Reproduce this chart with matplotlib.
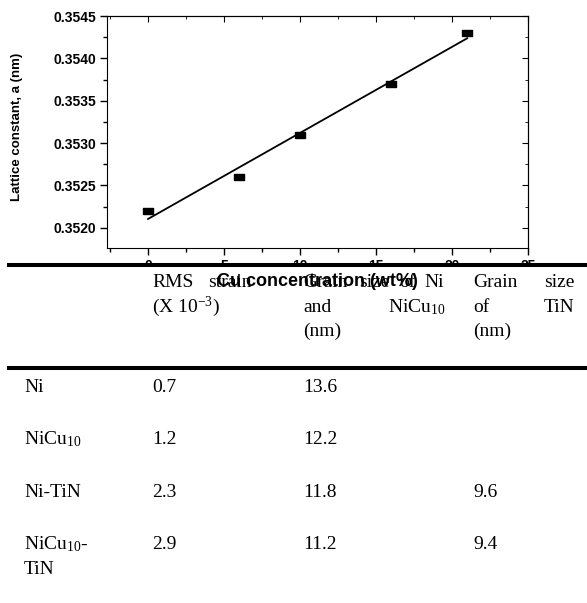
import numpy as np
import matplotlib
matplotlib.use('Agg')
import matplotlib.pyplot as plt
from matplotlib.patches import Rectangle
from matplotlib.lines import Line2D
from matplotlib.ticker import MultipleLocator

plt.rcParams['font.family'] = 'Liberation Sans'
plt.rcParams['mathtext.fontset'] = 'custom'
plt.rcParams['mathtext.rm'] = 'Liberation Serif'
plt.rcParams['mathtext.it'] = 'Liberation Serif:italic'
plt.rcParams['mathtext.bf'] = 'Liberation Serif:bold'

# datos de la grafica
cu = [0, 6, 10, 16, 21]
lattice = [0.3522, 0.3526, 0.3531, 0.3537, 0.3543]

# datos de la tabla
samples = ['Ni', 'NiCu$_{\\mathrm{10}}$', 'Ni-TiN', 'NiCu$_{\\mathrm{10}}$-\nTiN']
rms = ['0.7', '1.2', '2.3', '2.9']
grain = ['13.6', '12.2', '11.8', '11.2']
grain_tin = ['', '', '9.6', '9.4']

W, H = 587, 603


def fx(px):
    return px / W


def fy(py):
    return 1 - py / H


fig = plt.figure(figsize=(W / 100, H / 100), dpi=100)
ax = fig.add_axes([fx(107), fy(248), 421 / W, 232 / H])

# ajuste lineal
m, b = np.polyfit(cu, lattice, 1)
xs = np.array([cu[0], cu[-1]])
ax.plot(xs, m * xs + b, color='black', lw=1.3)

square = [(-1.5, -1), (1.5, -1), (1.5, 1), (-1.5, 1), (-1.5, -1)]
ax.plot(cu, lattice, ls='none', marker=square, ms=7.5, color='black')

ax.set_xlim(-2.7, 25)
ax.set_ylim(0.35176, 0.3545)
ax.set_xticks(range(0, 26, 5))
ax.set_yticks([0.3520, 0.3525, 0.3530, 0.3535, 0.3540, 0.3545])
ax.set_yticklabels(['%.4f' % v for v in ax.get_yticks()])
ax.xaxis.set_minor_locator(MultipleLocator(2.5))
ax.yaxis.set_minor_locator(MultipleLocator(0.00025))
ax.tick_params(which='major', direction='out', length=5, width=1, labelsize=10, pad=3)
ax.tick_params(which='minor', direction='out', length=3, width=1)
for lab in ax.get_xticklabels() + ax.get_yticklabels():
    lab.set_fontweight('bold')

top = ax.secondary_xaxis('top')
top.set_xticks(range(0, 26, 5))
top.xaxis.set_minor_locator(MultipleLocator(2.5))
top.tick_params(which='both', direction='in', labeltop=False)
top.tick_params(which='major', length=4)
top.tick_params(which='minor', length=2.5)
right = ax.secondary_yaxis('right')
right.set_yticks([0.3520, 0.3525, 0.3530, 0.3535, 0.3540, 0.3545])
right.yaxis.set_minor_locator(MultipleLocator(0.00025))
right.tick_params(which='both', direction='in', labelright=False)
right.tick_params(which='major', length=4)
right.tick_params(which='minor', length=2.5)

fig.text(fx(17), fy(127), 'Lattice constant, a (nm)', rotation=90, ha='center',
         va='center', fontsize=9.5, fontweight='bold')

# zona blanca de la tabla
fig.add_artist(Rectangle((0, 0), 1, fy(265), transform=fig.transFigure,
                         facecolor='white', edgecolor='none', zorder=3))
for py in [265, 368]:
    fig.add_artist(Line2D([fx(9), 1], [fy(py), fy(py)], color='black', lw=2.9,
                          zorder=4))

serif = dict(family='Liberation Serif', fontsize=14, va='baseline', zorder=4)

# encabezado
header = [
    (152, 287, 'RMS', 'left'), (252, 287, 'strain', 'right'),
    (152, 312, '(X 10$^{\\mathrm{-3}}$)', 'left'),
    (303, 287, 'Grain', 'left'), (359, 287, 'size', 'left'), (399, 287, 'of', 'left'),
    (444, 287, 'Ni', 'right'),
    (303, 312, 'and', 'left'), (445, 312, 'NiCu$_{\\mathrm{10}}$', 'right'),
    (303, 336, '(nm)', 'left'),
    (473, 287, 'Grain', 'left'), (544, 287, 'size', 'left'),
    (473, 312, 'of', 'left'), (544, 312, 'TiN', 'left'),
    (473, 336, '(nm)', 'left'),
]
for px, py, txt, ha in header:
    fig.text(fx(px), fy(py), txt, ha=ha, **serif)

row_y = [392, 444, 497, 549]
for i, y in enumerate(row_y):
    for k, part in enumerate(samples[i].split('\n')):
        fig.text(fx(24), fy(y + 25 * k), part, ha='left', **serif)
    fig.text(fx(152), fy(y), rms[i], ha='left', **serif)
    fig.text(fx(303), fy(y), grain[i], ha='left', **serif)
    if grain_tin[i]:
        fig.text(fx(473), fy(y), grain_tin[i], ha='left', **serif)

fig.text(fx(317), fy(286), 'Cu concentration (wt%)', ha='center', va='baseline',
         fontsize=13, fontweight='bold', zorder=5)

fig.savefig('out.png', dpi=100, facecolor='white')
